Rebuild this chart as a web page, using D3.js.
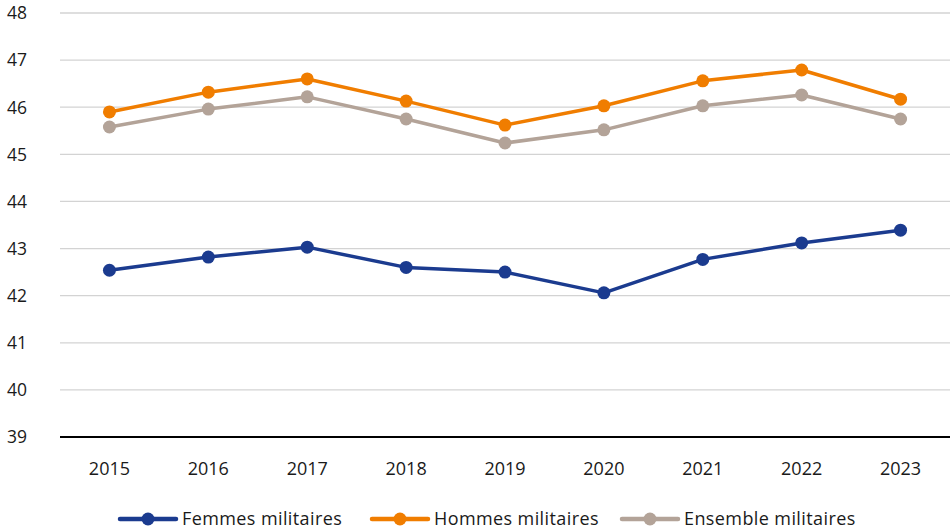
<!DOCTYPE html>
<html><head><meta charset="utf-8">
<script src="https://cdn.jsdelivr.net/npm/d3@7"></script>
<style>body{margin:0;background:#fff}svg{display:block}text{font-family:"Open Sans","Noto Sans",sans-serif}</style>
</head><body><svg id="c" width="950" height="532"></svg>
<script>
const years = ["2015","2016","2017","2018","2019","2020","2021","2022","2023"];
const femmes = [42.54,42.82,43.03,42.6,42.5,42.06,42.77,43.12,43.39];
const hommes = [45.9,46.32,46.6,46.13,45.62,46.03,46.56,46.79,46.17];
const ensemble = [45.58,45.96,46.22,45.75,45.24,45.52,46.03,46.26,45.75];
const yTicks = [39,40,41,42,43,44,45,46,47,48];
const seriesNames = ["Femmes militaires","Hommes militaires","Ensemble militaires"];
const colors = ["#1b3b8f","#f07d00","#b3a398"];

(function(){
const svg = d3.select("#c");
const mLeft = 60, mRight = 950, mTop = 13, mBottom = 437;
const x = d3.scalePoint().domain(years).range([mLeft, mRight]).padding(0.5);
const y = d3.scaleLinear().domain([39,48]).range([mBottom, mTop]);

svg.append("g").selectAll("line").data(yTicks.filter(t=>t>39)).join("line")
  .attr("x1", mLeft).attr("x2", mRight)
  .attr("y1", d=>y(d)).attr("y2", d=>y(d))
  .attr("stroke", "#d3d3d3").attr("stroke-width", 1.3);

svg.append("g").selectAll("text").data(yTicks).join("text")
  .attr("x", 7).attr("y", d=>y(d)).attr("dy","0.36em")
  .attr("font-size", 17.5).attr("fill","#1a1a1a").text(d=>d);

svg.append("line").attr("x1", mLeft).attr("x2", mRight).attr("y1", y(39)).attr("y2", y(39))
  .attr("stroke","#000").attr("stroke-width",2);

svg.append("g").selectAll("text").data(years).join("text")
  .attr("x", d=>x(d)).attr("y", 475).attr("text-anchor","middle")
  .attr("font-size", 18).attr("fill","#1a1a1a").text(d=>d);

const data = [femmes, hommes, ensemble];
const line = d3.line().x((d,i)=>x(years[i])).y(d=>y(d));
[2,1,0].forEach(k=>{
  const g = svg.append("g");
  g.append("path").datum(data[k]).attr("d", line).attr("fill","none")
    .attr("stroke", colors[k]).attr("stroke-width", 3.5).attr("stroke-linejoin","round");
  g.selectAll("circle").data(data[k]).join("circle")
    .attr("cx",(d,i)=>x(years[i])).attr("cy", d=>y(d)).attr("r", 6.5).attr("fill", colors[k]);
});

const legX = [120, 372, 622];
const lg = svg.append("g");
seriesNames.forEach((n,i)=>{
  const g = lg.append("g").attr("transform",`translate(${legX[i]},519)`);
  g.append("line").attr("x1",0).attr("x2",56).attr("y1",0).attr("y2",0)
    .attr("stroke",colors[i]).attr("stroke-width",4.5).attr("stroke-linecap","round");
  g.append("circle").attr("cx",28).attr("cy",0).attr("r",6.5).attr("fill",colors[i]);
  g.append("text").attr("x",62).attr("y",0).attr("dy","0.35em")
    .attr("font-size",18).attr("letter-spacing",0.4).attr("fill","#1a1a1a").text(n);
});
})();
</script></body></html>
